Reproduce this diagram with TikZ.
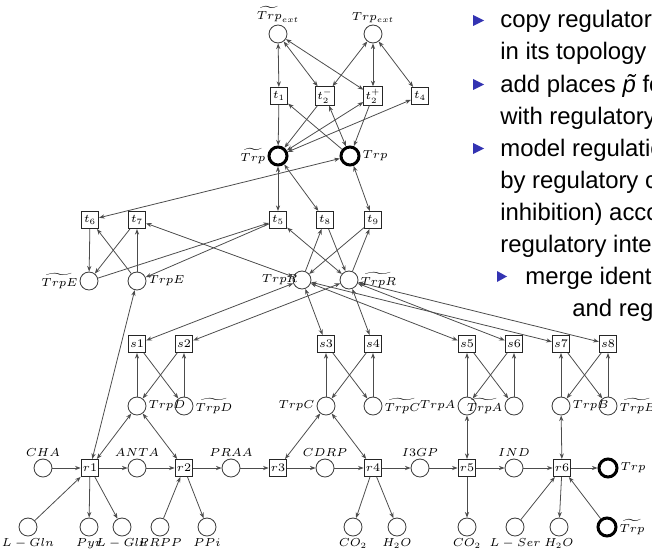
\RequirePackage{fix-cm}
\documentclass[tikz,border=0pt]{standalone}
\usepackage{fontspec}
\setsansfont{Liberation Sans}
\usepackage{tikz}
\usetikzlibrary{arrows.meta}
\definecolor{bulletblue}{rgb}{0.2,0.2,0.7}
\newcommand{\pnlabelfont}{\fontsize{6.6}{8}\selectfont}
\begin{document}
\begin{tikzpicture}[x=0.02cm, y=-0.02cm,
  >={Stealth[length=3.2pt,width=2.4pt]},
  every label/.style={font=\pnlabelfont, inner sep=1pt},
  place/.style={circle, draw=black!75, line width=0.5pt, minimum size=0.36cm, inner sep=0pt},
  bigplace/.style={place, draw=black, line width=1.7pt},
  trans/.style={rectangle, draw=black!85, line width=0.6pt, minimum size=0.34cm, inner sep=1pt, font=\pnlabelfont},
  flow/.style={->, draw=black!70, line width=0.45pt},
  readarc/.style={<->, draw=black!70, line width=0.45pt},
  slidetext/.style={anchor=base west, inner sep=0pt, font=\sffamily\fontsize{13.6}{16}\selectfont}]

\useasboundingbox (0,0) rectangle (652,554);

%
% Trp signal
%
\path
(278,34) node [place, label=above:$\widetilde{Trp}_{ext}$] (pTrpExtN) {};
\path
(373,34) node [place, label=above:$Trp_{ext}$] (pTrpExt) {};

\path (279,96) node [trans] (t1) {$t_1$};
\path (325,96) node [trans] (t2m) {$t_2^-$};
\path (373,96) node [trans] (t2p) {$t_2^+$};
\path (420,96) node [trans] (t4) {$t_4$};

\path
(278,156) node [bigplace, label=left:$\widetilde{Trp}$] (pTrpN) {};
\path
(350,156) node [bigplace, label=right:$Trp$] (pTrp) {};

\draw[readarc] (pTrpExtN) -- (t1);
\draw[readarc] (pTrpExtN) -- (t2m);
\draw[readarc] (pTrpExtN) -- (t2p);
\draw[readarc] (pTrpExt) -- (t2m);
\draw[readarc] (pTrpExt) -- (t2p);
\draw[readarc] (pTrpExt) -- (t4);

\draw[flow] (t1) -- (pTrpN);
\draw[flow] (pTrp) -- (t1);
\draw[flow] (t2m) -- (pTrpN);
\draw[readarc] (pTrp) -- (t2m);
\draw[readarc] (pTrpN) -- (t2p);
\draw[flow] (t2p) -- (pTrp);
\draw[readarc] (pTrpN) -- (t4);

%
% TrpE and TrpR switches
%
\path (90,220) node [trans] (t6) {$t_6$};
\path (137,220) node [trans] (t7) {$t_7$};
\path (278,220) node [trans] (t5) {$t_5$};
\path (325,220) node [trans] (t8) {$t_8$};
\path (373,220) node [trans] (t9) {$t_9$};

\path
(89,281) node [place, label=left:$\widetilde{TrpE}$] (pTrpEN) {};
\path
(137,281) node [place, label=right:$TrpE$] (pTrpE) {};
\path
(302,280) node [place, label={[label distance=-4pt]left:$TrpR$}] (pTrpR) {};
\path
(349,280) node [place, label=right:$\widetilde{TrpR}$] (pTrpRN) {};

\draw[readarc] (pTrpN) -- (t5);
\draw[readarc] (pTrpN) -- (t8);
\draw[readarc] (pTrp) -- (t9);
\draw[readarc] (pTrp) -- (t6);

\draw[flow] (pTrpE) -- (t6);
\draw[flow] (t6) -- (pTrpEN);
\draw[flow] (pTrpE) -- (t7);
\draw[flow] (t7) -- (pTrpEN);
\draw[readarc] (pTrpR) -- (t7);

\draw[flow] (pTrpEN) -- (t5);
\draw[flow] (t5) -- (pTrpE);
\draw[readarc] (t5) -- (pTrpRN);

\draw[flow] (pTrpR) -- (t8);
\draw[flow] (t8) -- (pTrpRN);
\draw[flow] (pTrpRN) -- (t9);
\draw[flow] (t9) -- (pTrpR);

%
% Enzyme switches
%
\path (137,344) node [trans] (s1) {$s1$};
\path (184,344) node [trans] (s2) {$s2$};
\path (326,344) node [trans] (s3) {$s3$};
\path (373,344) node [trans] (s4) {$s4$};
\path (467,344) node [trans] (s5) {$s5$};
\path (514,344) node [trans] (s6) {$s6$};
\path (561,344) node [trans] (s7) {$s7$};
\path (608,344) node [trans] (s8) {$s8$};

\path
(137,406) node [place, label=right:$TrpD$] (pTrpD) {};
\path
(184,406) node [place, label=right:$\widetilde{TrpD}$] (pTrpDN) {};
\path
(326,406) node [place, label=left:$TrpC$] (pTrpC) {};
\path
(373,406) node [place, label=right:$\widetilde{TrpC}$] (pTrpCN) {};
\path
(467,406) node [place, label=left:$TrpA$] (pTrpA) {};
\path
(514,406) node [place, label=left:$\widetilde{TrpA}$] (pTrpAN) {};
\path
(561,406) node [place, label=right:$TrpB$] (pTrpB) {};
\path
(608,406) node [place, label=right:$\widetilde{TrpB}$] (pTrpBN) {};

\draw[readarc] (pTrpR) -- (s1);
\draw[readarc] (pTrpRN) -- (s2);
\draw[readarc] (pTrpR) -- (s3);
\draw[readarc] (pTrpRN) -- (s4);
\draw[readarc] (pTrpR) -- (s5);
\draw[readarc] (pTrpRN) -- (s6);
\draw[readarc] (pTrpR) -- (s7);
\draw[readarc] (pTrpRN) -- (s8);

\draw[flow] (pTrpD) -- (s1);
\draw[flow] (s1) -- (pTrpDN);
\draw[flow] (pTrpDN) -- (s2);
\draw[flow] (s2) -- (pTrpD);

\draw[flow] (pTrpC) -- (s3);
\draw[flow] (s3) -- (pTrpCN);
\draw[flow] (pTrpCN) -- (s4);
\draw[flow] (s4) -- (pTrpC);

\draw[flow] (pTrpA) -- (s5);
\draw[flow] (s5) -- (pTrpAN);
\draw[flow] (pTrpAN) -- (s6);
\draw[flow] (s6) -- (pTrpA);

\draw[flow] (pTrpB) -- (s7);
\draw[flow] (s7) -- (pTrpBN);
\draw[flow] (pTrpBN) -- (s8);
\draw[flow] (s8) -- (pTrpB);

%
% Biosynthesis pathway
%
\path
(43,468) node [place, label=above:$CHA$] (pCHA) {};
\path (90,468) node [trans] (r1) {$r1$};
\path
(137,468) node [place, label=above:$ANTA$] (pANTA) {};
\path (184,468) node [trans] (r2) {$r2$};
\path
(231,468) node [place, label=above:$PRAA$] (pPRAA) {};
\path (278,468) node [trans] (r3) {$r3$};
\path
(325,468) node [place, label=above:$CDRP$] (pCDRP) {};
\path (373,468) node [trans] (r4) {$r4$};
\path
(420,468) node [place, label=above:$I3GP$] (pIGP) {};
\path (467,468) node [trans] (r5) {$r5$};
\path
(514,468) node [place, label=above:$IND$] (pIND) {};
\path (562,468) node [trans] (r6) {$r6$};
\path
(608,468) node [bigplace, label=right:$Trp$] (pTrpOut) {};

% substrates and side products
\path
(28,527) node [place, label=below:$L-Gln$] (pLGln) {};
\path
(89,527) node [place, label=below:$Pyr$] (pPyr) {};
\path
(122,527) node [place, label=below:$L-Glu$] (pLGlu) {};
\path
(160,527) node [place, label=below:$PRPP$] (pPRPP) {};
\path
(207,527) node [place, label=below:$PPi$] (pPPi) {};
\path
(353,527) node [place, label=below:$CO_2$] (pCOa) {};
\path
(397,527) node [place, label=below:$H_2O$] (pHOa) {};
\path
(467,527) node [place, label=below:$CO_2$] (pCOb) {};
\path
(515,527) node [place, label=below:$L-Ser$] (pLSer) {};
\path
(559,527) node [place, label=below:$H_2O$] (pHOb) {};
\path
(607,527) node [bigplace, label=right:$\widetilde{Trp}$] (pTrpIn) {};

\draw[flow] (pCHA) -- (r1);
\draw[flow] (r1) -- (pANTA);
\draw[flow] (pANTA) -- (r2);
\draw[flow] (r2) -- (pPRAA);
\draw[flow] (pPRAA) -- (r3);
\draw[flow] (r3) -- (pCDRP);
\draw[flow] (pCDRP) -- (r4);
\draw[flow] (r4) -- (pIGP);
\draw[flow] (pIGP) -- (r5);
\draw[flow] (r5) -- (pIND);
\draw[flow] (pIND) -- (r6);
\draw[flow] (r6) -- (pTrpOut);

\draw[flow] (pLGln) -- (r1);
\draw[flow] (r1) -- (pPyr);
\draw[flow] (r1) -- (pLGlu);
\draw[flow] (pPRPP) -- (r2);
\draw[flow] (r2) -- (pPPi);
\draw[flow] (r4) -- (pCOa);
\draw[flow] (r4) -- (pHOa);
\draw[flow] (r5) -- (pCOb);
\draw[flow] (pLSer) -- (r6);
\draw[flow] (r6) -- (pHOb);
\draw[flow] (pTrpIn) -- (r6);

% enzymes catalysing the reactions
\draw[readarc] (pTrpE) -- (r1);
\draw[readarc] (pTrpD) -- (r1);
\draw[readarc] (pTrpD) -- (r2);
\draw[readarc] (pTrpC) -- (r3);
\draw[readarc] (pTrpC) -- (r4);
\draw[readarc] (pTrpA) -- (r5);
\draw[readarc] (pTrpB) -- (r6);

%
% Slide text
%
\begin{scope}
\clip (0,0) rectangle (652,554);

\fill[bulletblue] (473,15) -- (484,20.5) -- (473,26) -- cycle;
\fill[bulletblue] (473,79) -- (484,84.5) -- (473,90) -- cycle;
\fill[bulletblue] (473,143) -- (484,148.5) -- (473,154) -- cycle;
\fill[bulletblue] (497,271) -- (507,276.5) -- (497,282) -- cycle;

\path (500,28) node [slidetext] (txtA) {copy regulatory};
\path (500,60) node [slidetext] (txtB) {in its topology};
\path (500,92) node [slidetext] (txtC) {add places \textit{\~p} for};
\path (500,124) node [slidetext] (txtD) {with regulatory};
\path (500,156) node [slidetext] (txtE) {model regulation};
\path (500,188) node [slidetext] (txtF) {by regulatory co};
\path (500,220) node [slidetext] (txtG) {inhibition) acco};
\path (500,252) node [slidetext] (txtH) {regulatory inter};
\path (525,284) node [slidetext] (txtI) {merge identic};
\path (572,316) node [slidetext] (txtJ) {and regu};
\end{scope}

\end{tikzpicture}
\end{document}
